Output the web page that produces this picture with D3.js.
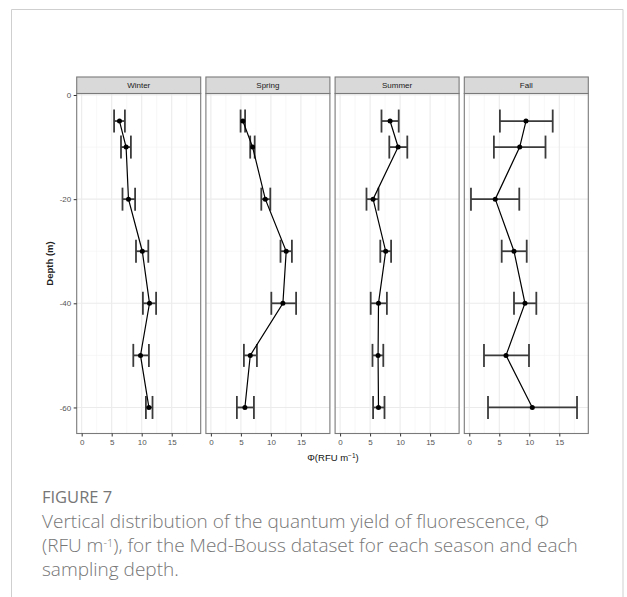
<!DOCTYPE html>
<html><head><meta charset="utf-8">
<script src="https://cdn.jsdelivr.net/npm/d3@7"></script>
<style>
body{margin:0;background:#fff;}
svg{display:block;}
</style></head>
<body>
<svg id="chart" width="627" height="597"></svg>
<script>
const seasons = ["Winter", "Spring", "Summer", "Fall"];
const depths = [-5, -10, -20, -30, -40, -50, -60];
const winterMean = [6.3, 7.4, 7.8, 10.1, 11.3, 9.8, 11.2];
const winterLow  = [5.4, 6.55, 6.8, 9.05, 10.2, 8.6, 10.7];
const winterHigh = [7.2, 8.2, 8.9, 11.1, 12.4, 11.2, 11.8];
const springMean = [5.33, 6.95, 9.07, 12.55, 12.0, 6.56, 5.67];
const springLow  = [4.95, 6.55, 8.4, 11.6, 10.07, 5.5, 4.33];
const springHigh = [5.7, 7.3, 9.9, 13.5, 14.2, 7.67, 7.17];
const summerMean = [8.33, 9.67, 5.5, 7.6, 6.4, 6.33, 6.4];
const summerLow  = [6.9, 8.2, 4.4, 6.7, 5.1, 5.4, 5.5];
const summerHigh = [9.77, 11.2, 6.4, 8.5, 7.8, 7.2, 7.4];
const fallMean = [9.45, 8.4, 4.33, 7.45, 9.28, 6.12, 10.5];
const fallLow  = [5.1, 4.1, 0.28, 5.4, 7.45, 2.45, 3.12];
const fallHigh = [13.9, 12.7, 8.33, 9.57, 11.17, 9.95, 17.95];
const xTicks = [0, 5, 10, 15];
const xMinor = [2.5, 7.5, 12.5, 17.5];
const yTicks = [0, -20, -40, -60];
const yMinor = [-10, -30, -50];

const means = [winterMean, springMean, summerMean, fallMean];
const lows = [winterLow, springLow, summerLow, fallLow];
const highs = [winterHigh, springHigh, summerHigh, fallHigh];

const svg = d3.select("#chart");
const axFont = "Liberation Sans, Arial, sans-serif";

svg.append("path")
  .attr("d", "M11.5,620 V9.5 H623 V620")
  .attr("fill", "none").attr("stroke", "#cfcfcf").attr("stroke-width", 1);

const panelW = 124, panelGap = 5.2, firstLeft = 76.7;
const stripTop = 77, stripH = 16.5, plotTop = 93.5, plotBottom = 433.5;

const y = d3.scaleLinear().domain([-65, 0]).range([plotBottom, 95]);
const borderCol = "#7a7a7a";

seasons.forEach((s, i) => {
  const left = firstLeft + i * (panelW + panelGap);
  const x = d3.scaleLinear().domain([-0.83, 19.83]).range([left, left + panelW]);
  const g = svg.append("g");

  g.selectAll(".xm").data(xMinor).enter().append("line")
    .attr("x1", d => x(d)).attr("x2", d => x(d))
    .attr("y1", plotTop).attr("y2", plotBottom)
    .attr("stroke", "#f2f2f2").attr("stroke-width", 0.6);
  g.selectAll(".ym").data(yMinor).enter().append("line")
    .attr("y1", d => y(d)).attr("y2", d => y(d))
    .attr("x1", left).attr("x2", left + panelW)
    .attr("stroke", "#f2f2f2").attr("stroke-width", 0.6);
  g.selectAll(".xg").data(xTicks).enter().append("line")
    .attr("x1", d => x(d)).attr("x2", d => x(d))
    .attr("y1", plotTop).attr("y2", plotBottom)
    .attr("stroke", "#ebebeb").attr("stroke-width", 1.1);
  g.selectAll(".yg").data(yTicks).enter().append("line")
    .attr("y1", d => y(d)).attr("y2", d => y(d))
    .attr("x1", left).attr("x2", left + panelW)
    .attr("stroke", "#ebebeb").attr("stroke-width", 1.1);

  const capH = 11.5;
  depths.forEach((dp, k) => {
    const yy = y(dp);
    g.append("line").attr("x1", x(lows[i][k])).attr("x2", x(highs[i][k]))
      .attr("y1", yy).attr("y2", yy).attr("stroke", "#3b3b3b").attr("stroke-width", 1.8);
    [lows[i][k], highs[i][k]].forEach(v => {
      g.append("line").attr("x1", x(v)).attr("x2", x(v))
        .attr("y1", yy - capH).attr("y2", yy + capH)
        .attr("stroke", "#3b3b3b").attr("stroke-width", 1.8);
    });
  });

  const line = d3.line().x(d => x(d)).y((d, k) => y(depths[k]));
  g.append("path").attr("d", line(means[i]))
    .attr("fill", "none").attr("stroke", "#000").attr("stroke-width", 1.2);
  g.selectAll(".pt").data(means[i]).enter().append("circle")
    .attr("cx", d => x(d)).attr("cy", (d, k) => y(depths[k]))
    .attr("r", 2.5).attr("fill", "#000");

  g.append("rect").attr("x", left).attr("y", plotTop)
    .attr("width", panelW).attr("height", plotBottom - plotTop)
    .attr("fill", "none").attr("stroke", borderCol).attr("stroke-width", 1.1);
  g.append("rect").attr("x", left).attr("y", stripTop)
    .attr("width", panelW).attr("height", stripH)
    .attr("fill", "#d9d9d9").attr("stroke", borderCol).attr("stroke-width", 1.1);
  g.append("text").attr("x", left + panelW / 2).attr("y", stripTop + stripH / 2 + 3)
    .attr("text-anchor", "middle").attr("font-family", axFont)
    .attr("font-size", 8).attr("fill", "#1a1a1a").text(s);

  const xAxis = d3.axisBottom(x).tickValues(xTicks).tickSize(3).tickPadding(2.5);
  const ax = svg.append("g").attr("transform", `translate(0,${plotBottom})`).call(xAxis);
  ax.select(".domain").remove();
  ax.selectAll(".tick line").attr("stroke", "#333");
  ax.selectAll(".tick text").attr("fill", "#555").attr("font-size", 8)
    .attr("font-family", axFont);
});

const yAxis = d3.axisLeft(y).tickValues(yTicks).tickSize(3).tickPadding(2.5).tickFormat(d3.format("d"));
const ay = svg.append("g").attr("transform", `translate(${firstLeft},0)`).call(yAxis);
ay.select(".domain").remove();
ay.selectAll(".tick line").attr("stroke", "#333");
ay.selectAll(".tick text").attr("fill", "#555").attr("font-size", 8)
  .attr("font-family", axFont)
  .text(d => d < 0 ? "-" + Math.abs(d) : d);

svg.append("text").attr("transform", `translate(53,${(plotTop + plotBottom) / 2}) rotate(-90)`)
  .attr("text-anchor", "middle").attr("font-family", axFont)
  .attr("font-size", 9.5).attr("font-weight", "bold").attr("fill", "#222").text("Depth (m)");

const xt = svg.append("text").attr("x", 333).attr("y", 461)
  .attr("text-anchor", "middle").attr("font-family", axFont)
  .attr("font-size", 9.5).attr("fill", "#111");
xt.append("tspan").text("\u03A6(RFU m");
xt.append("tspan").attr("dy", -3.5).attr("font-size", 6.5).text("\u22121");
xt.append("tspan").attr("dy", 3.5).text(")");

const capFont = "Open Sans, Noto Sans, sans-serif";
const capCol = "#767676";
svg.append("text").attr("x", 42).attr("y", 503).attr("font-family", capFont)
  .attr("font-size", 16.5).attr("fill", capCol).attr("font-weight", 500).text("FIGURE 7");
svg.append("text").attr("x", 42).attr("y", 528).attr("font-family", capFont)
  .attr("font-size", 19).attr("font-weight", 300).attr("fill", capCol)
  .text("Vertical distribution of the quantum yield of fluorescence, \u03A6");
const l2 = svg.append("text").attr("x", 42).attr("y", 552).attr("font-family", capFont)
  .attr("font-size", 19).attr("font-weight", 300).attr("fill", capCol);
l2.append("tspan").text("(RFU m");
l2.append("tspan").attr("dy", -5.5).attr("font-size", 11).text("-1");
l2.append("tspan").attr("dy", 5.5).text("), for the Med-Bouss dataset for each season and each");
svg.append("text").attr("x", 42).attr("y", 576).attr("font-family", capFont)
  .attr("font-size", 19).attr("font-weight", 300).attr("fill", capCol).text("sampling depth.");
</script>
</body></html>
